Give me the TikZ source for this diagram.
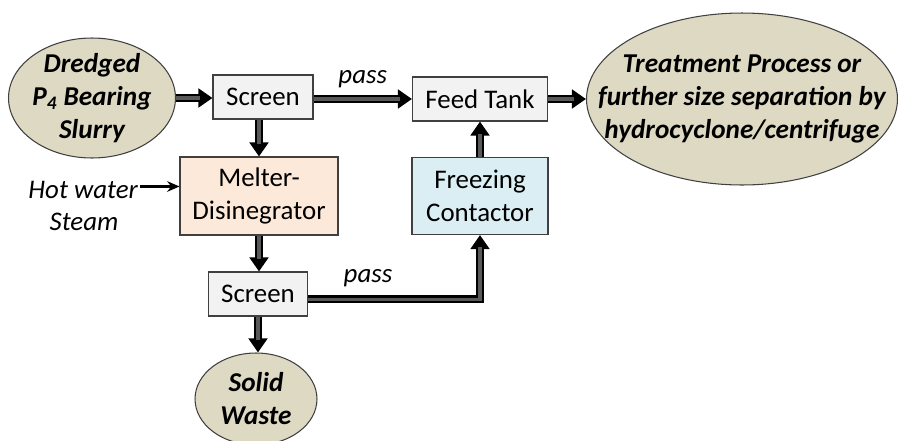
\documentclass[tikz,border=0pt]{standalone}
\usepackage{fontspec}
\setmainfont{Carlito}
\usetikzlibrary{arrows.meta,shapes.geometric}
\definecolor{tan}{RGB}{221,217,195}
\definecolor{boxgray}{RGB}{242,242,242}
\definecolor{melt}{RGB}{253,233,217}
\definecolor{frz}{RGB}{219,238,244}
\definecolor{edge}{RGB}{64,64,64}
\tikzset{
        every node/.style={font=\fontsize{15.3}{18.5}\selectfont},
        blob/.style={ellipse, draw=edge, line width=0.6pt, fill=tan, inner sep=0pt},
        blobtext/.style={align=center, font=\fontsize{15.5}{18.8}\selectfont\bfseries\itshape},
        unit/.style={rectangle, draw=edge, line width=0.6pt, fill=boxgray, inner sep=0pt, minimum height=0.88cm},
        flow/.style={draw=black, line width=4.5pt, -{Triangle[length=8pt,width=10.5pt]},
          postaction={draw=black!65, line width=1.8pt, -, shorten >=7pt}},
        feedin/.style={draw=black, line width=1.5pt, -{Stealth[length=7pt,width=6pt]}},
        note/.style={font=\fontsize{15.3}{18.5}\selectfont\itshape}
          }
\begin{document}
\begin{tikzpicture}[x=0.02cm, y=-0.02cm]
            \useasboundingbox (0,0) rectangle (900,440);
            % sources and sinks
            \node[blob, minimum width=3.34cm, minimum height=2.4cm] (slurry) at (92,98) {};
            \node[blobtext] (slurrytext) at (slurry) {Dredged\\P\textsubscript{4} Bearing\\Slurry};
            \node[blob, minimum width=6.22cm, minimum height=3.44cm] (out) at (742,99) {};
            \node[blobtext] (outtext) at (out) {Treatment Process or\\further size separation by\\hydrocyclone/centrifuge};
            \node[blob, minimum width=2.44cm, minimum height=1.84cm] (waste) at (256,399) {};
            \node[blobtext] (wastetext) at (waste) {Solid\\Waste};
            % process units
            \node[unit, minimum width=2cm] (scr1) at (263,97) {Screen};
            \node[unit, minimum width=2.7cm] (feed) at (480,99) {Feed Tank};
            \node[unit, minimum width=3.16cm, minimum height=1.56cm, fill=melt, align=center] (melt) at (259,196) {Melter-\\Disinegrator};
            \node[unit, minimum width=2.72cm, minimum height=1.54cm, fill=frz, align=center] (frz) at (480,196) {Freezing\\Contactor};
            \node[unit, minimum width=1.98cm] (scr2) at (258,294) {Screen};
            % utilities
            \node[note, anchor=east, inner sep=1pt] (hot) at (140,190) {Hot water};
            \node[note] (steam) at (84,222) {Steam};
            % flows
            \draw[flow] (slurry.east) -- (scr1.west |- slurry.east);
            \draw[flow] (scr1.east |- feed.west) -- node[note, above=1pt] (pass1) {pass} (feed.west);
            \draw[flow] (feed.east) -- (out.west);
            \draw[flow] (scr1.south -| melt.north) -- (melt.north);
            \draw[flow] (melt.south) -- (melt.south |- scr2.north);
            \draw[flow] (scr2.south) -- (scr2.south |- waste.north);
            \draw[flow] ([yshift=-3pt]scr2.east) -| (frz.south);
            \draw[flow] (frz.north) -- (feed.south);
            \node[note] (pass2) at (368,278) {pass};
            \draw[feedin] ([yshift=2pt]hot.east) -- ([yshift=2pt]melt.west |- hot.east);
          \end{tikzpicture}
\end{document}
